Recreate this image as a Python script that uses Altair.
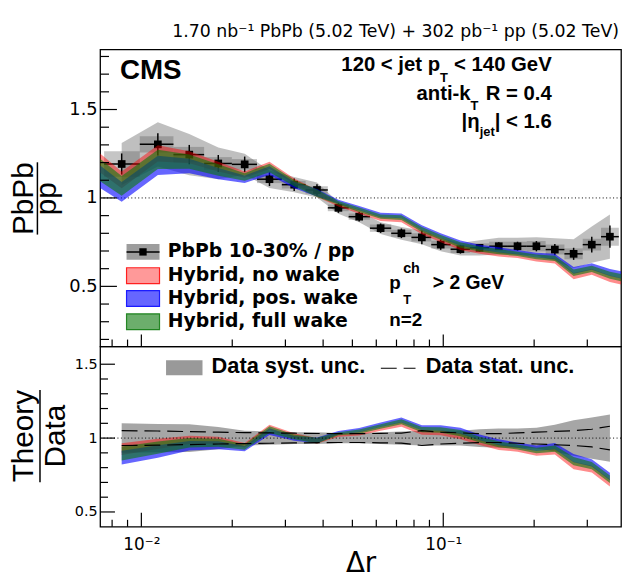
import altair as alt
import pandas as pd

# ---------------- data ----------------
dr_centre = [0.008606, 0.01134, 0.01441, 0.01798, 0.02199, 0.02657, 0.03208, 0.03817,
             0.04495, 0.05266, 0.06202, 0.07267, 0.08494, 0.09806, 0.1140, 0.1319,
             0.1527, 0.1762, 0.2035, 0.2342, 0.2703, 0.3104, 0.3565]
dr_edges = [0.007527, 0.009880, 0.012773, 0.016138, 0.019940, 0.024161, 0.029196, 0.034991,
            0.041458, 0.048597, 0.057150, 0.067236, 0.078464, 0.091251, 0.10574, 0.12254,
            0.14199, 0.16381, 0.18909, 0.21834, 0.25195, 0.28973, 0.33316, 0.38158]
pbpb_pp = [1.192, 1.303, 1.245, 1.195, 1.190, 1.106, 1.075, 1.045, 0.944, 0.894, 0.829, 0.800,
           0.777, 0.736, 0.710, 0.718, 0.727, 0.727, 0.727, 0.708, 0.684, 0.736, 0.781]
stat_rel = [0.05, 0.048, 0.044, 0.04, 0.037, 0.035, 0.033, 0.031, 0.03, 0.03, 0.032, 0.034,
            0.05, 0.04, 0.035, 0.03, 0.03, 0.035, 0.04, 0.045, 0.05, 0.06, 0.08]
syst_rel = [0.10, 0.096, 0.094, 0.075, 0.05, 0.045, 0.04, 0.04, 0.035, 0.035, 0.04, 0.045,
            0.05, 0.05, 0.05, 0.06, 0.065, 0.065, 0.07, 0.09, 0.12, 0.14, 0.16]
box_rel = [0.06, 0.035, 0.035, 0.03, 0.025, 0.02, 0.02, 0.02, 0.02, 0.02, 0.025, 0.025,
           0.03, 0.03, 0.03, 0.035, 0.035, 0.035, 0.04, 0.04, 0.045, 0.045, 0.065]

# theory (Hybrid model) bands: plot edges + data bin centres
theory_dr = [0.0073] + dr_centre + [0.388]
nowake_lo = [1.144, 1.055, 1.206, 1.196, 1.150, 1.114, 1.164, 1.080, 1.005, 0.952, 0.910, 0.870,
             0.862, 0.795, 0.750, 0.705, 0.684, 0.669, 0.660, 0.640, 0.629, 0.540, 0.565, 0.525, 0.510]
nowake_hi = [1.251, 1.150, 1.298, 1.264, 1.205, 1.150, 1.205, 1.110, 1.045, 0.971, 0.933, 0.893,
             0.887, 0.820, 0.775, 0.733, 0.710, 0.695, 0.683, 0.665, 0.657, 0.575, 0.598, 0.562, 0.548]
poswake_lo = [1.056, 0.978, 1.130, 1.140, 1.105, 1.084, 1.130, 1.055, 1.008, 0.969, 0.930, 0.891,
              0.885, 0.818, 0.773, 0.730, 0.707, 0.692, 0.680, 0.663, 0.654, 0.572, 0.594, 0.558, 0.544]
poswake_hi = [1.183, 1.090, 1.239, 1.221, 1.170, 1.127, 1.179, 1.091, 1.050, 0.990, 0.955, 0.916,
              0.912, 0.845, 0.800, 0.760, 0.735, 0.721, 0.705, 0.690, 0.684, 0.610, 0.630, 0.598, 0.585]
fullwake_lo = [1.095, 1.012, 1.164, 1.165, 1.125, 1.097, 1.145, 1.066, 1.006, 0.962, 0.921, 0.882,
               0.875, 0.808, 0.763, 0.719, 0.697, 0.682, 0.671, 0.653, 0.643, 0.558, 0.581, 0.543, 0.529]
fullwake_hi = [1.222, 1.124, 1.273, 1.245, 1.190, 1.140, 1.194, 1.102, 1.048, 0.982, 0.946, 0.907,
               0.902, 0.835, 0.790, 0.749, 0.725, 0.711, 0.696, 0.680, 0.673, 0.596, 0.617, 0.583, 0.570]

x_major = [0.01, 0.1]
x_major_labels = ["10⁻²", "10⁻¹"]
x_minor = [0.008, 0.009, 0.02, 0.03, 0.04, 0.05, 0.06, 0.07, 0.08, 0.09, 0.2, 0.3]
y_top_major = [0.5, 1.0, 1.5]
y_top_minor = [0.2, 0.3, 0.4, 0.6, 0.7, 0.8, 0.9, 1.1, 1.2, 1.3, 1.4, 1.6, 1.7, 1.8]
y_bot_major = [0.5, 1.0, 1.5]
y_bot_minor = [0.6, 0.7, 0.8, 0.9, 1.1, 1.2, 1.3, 1.4]

# ---------------- tables ----------------
n = len(dr_centre)
data = pd.DataFrame({
    "dr": dr_centre, "lo": dr_edges[:-1], "hi": dr_edges[1:], "r": pbpb_pp,
})
data["st_lo"] = [pbpb_pp[i] * (1 - stat_rel[i]) for i in range(n)]
data["st_hi"] = [pbpb_pp[i] * (1 + stat_rel[i]) for i in range(n)]
data["sy_lo"] = [pbpb_pp[i] * (1 - syst_rel[i]) for i in range(n)]
data["sy_hi"] = [pbpb_pp[i] * (1 + syst_rel[i]) for i in range(n)]
data["bx_lo"] = [pbpb_pp[i] * (1 - box_rel[i]) for i in range(n)]
data["bx_hi"] = [pbpb_pp[i] * (1 + box_rel[i]) for i in range(n)]

theory = pd.DataFrame({
    "dr": theory_dr,
    "nw_lo": nowake_lo, "nw_hi": nowake_hi,
    "pw_lo": poswake_lo, "pw_hi": poswake_hi,
    "fw_lo": fullwake_lo, "fw_hi": fullwake_hi,
})

ratio = pd.DataFrame({"dr": dr_centre})
ratio["sy_lo"] = [1 - s for s in syst_rel]
ratio["sy_hi"] = [1 + s for s in syst_rel]
ratio["st_lo"] = [1 - s for s in stat_rel]
ratio["st_hi"] = [1 + s for s in stat_rel]
for key, lo, hi in [("nw", nowake_lo, nowake_hi), ("pw", poswake_lo, poswake_hi),
                    ("fw", fullwake_lo, fullwake_hi)]:
    ratio[key + "_lo"] = [lo[i + 1] / pbpb_pp[i] for i in range(n)]
    ratio[key + "_hi"] = [hi[i + 1] / pbpb_pp[i] for i in range(n)]

one = pd.DataFrame({"y": [1.0]})

# ---------------- styling ----------------
W, H1, H2 = 526, 300, 182
RED, BLUE, GREEN = "#ff0000", "#0000ff", "#0a780a"
xs = alt.Scale(type="log", domain=[0.0073, 0.388], nice=False)
ys1 = alt.Scale(domain=[0.16, 1.84], nice=False, zero=False)
ys2 = alt.Scale(domain=[0.40, 1.62], nice=False, zero=False)
LS, DJ = "Liberation Sans", "DejaVu Sans"

yaxis1 = alt.Axis(values=y_top_major, format="~g", labelFont=DJ, labelFontSize=18,
                  labelColor="black", labelPadding=3, ticks=False, tickSize=0, domain=False,
                  grid=False, title=None, labelFlush=False)
yaxis2 = alt.Axis(values=y_bot_major, format="~g", labelFont=DJ, labelFontSize=14.5,
                  labelColor="black", labelPadding=3, ticks=False, tickSize=0, domain=False,
                  grid=False, title=None, labelFlush=False)
xaxis = alt.Axis(values=x_major,
                 labelExpr=f"datum.value < 0.05 ? '{x_major_labels[0]}' : '{x_major_labels[1]}'",
                 labelFont=DJ, labelFontSize=17, labelColor="black", labelPadding=10,
                 ticks=False, tickSize=0, domain=False, grid=False, labelFlush=False,
                 title="Δr", titleFont=DJ, titleFontSize=28, titleFontWeight="normal",
                 titleColor="black", titlePadding=-3)


def mk(panel):
    if panel == 1:
        return (lambda f: alt.X(f"{f}:Q", scale=xs, axis=None),
                lambda f: alt.Y(f"{f}:Q", scale=ys1, axis=yaxis1), ys1, H1)
    return (lambda f: alt.X(f"{f}:Q", scale=xs, axis=xaxis),
            lambda f: alt.Y(f"{f}:Q", scale=ys2, axis=yaxis2), ys2, H2)


def txt(s, x, y, size, font=LS, bold=True, align="left", angle=0):
    return alt.Chart(one).mark_text(
        text=s, align=align, baseline="alphabetic", fontSize=size, font=font,
        fontWeight="bold" if bold else "normal", angle=angle, color="black"
    ).encode(x=alt.value(x), y=alt.value(y))


def box(x1, x2, y1, y2, fill, fop, stroke=None):
    kw = dict(fill=fill, fillOpacity=fop)
    if stroke:
        kw.update(stroke=stroke, strokeWidth=1.2, strokeOpacity=0.85)
    return alt.Chart(one).mark_rect(**kw).encode(
        x=alt.value(x1), x2=alt.value(x2), y=alt.value(y1), y2=alt.value(y2))


def seg(x1, x2, y1, y2, dash=None, width=1.5):
    kw = dict(color="black", strokeWidth=width)
    if dash:
        kw["strokeDash"] = dash
    return alt.Chart(one).mark_rule(**kw).encode(
        x=alt.value(x1), x2=alt.value(x2), y=alt.value(y1), y2=alt.value(y2))


def panel_common(panel, majlen_x, majlen_y, minlen_y):
    Xf, Yf, ys, h = mk(panel)
    return [
        alt.Chart(pd.DataFrame({"v": x_minor})).mark_rule(color="black", strokeWidth=1.2).encode(
            x=Xf("v"), y=alt.value(h), y2=alt.value(h - 7)),
        alt.Chart(pd.DataFrame({"v": x_major})).mark_rule(color="black", strokeWidth=1.2).encode(
            x=Xf("v"), y=alt.value(h), y2=alt.value(h - majlen_x)),
        alt.Chart(pd.DataFrame({"v": y_top_minor if panel == 1 else y_bot_minor})).mark_rule(
            color="black", strokeWidth=1.2).encode(y=Yf("v"), x=alt.value(0), x2=alt.value(minlen_y)),
        alt.Chart(pd.DataFrame({"v": y_top_major if panel == 1 else y_bot_major})).mark_rule(
            color="black", strokeWidth=1.2).encode(y=Yf("v"), x=alt.value(0), x2=alt.value(majlen_y)),
    ]


def band(panel, df, lo, hi, color, op):
    Xf, Yf, ys, h = mk(panel)
    return alt.Chart(df).mark_area(color=color, opacity=op, clip=True).encode(
        x=Xf("dr"), y=Yf(lo), y2=f"{hi}:Q")


# ---------------- top panel ----------------
X1, Y1, _, _ = mk(1)
top_layers = [
    alt.Chart(one).mark_rule(color="white", strokeWidth=1).encode(
        x=alt.value(0), x2=alt.value(10), y=alt.value(-37.5), y2=alt.value(-37.5)),
    alt.Chart(one).mark_rule(color="black", strokeDash=[1, 2.5], strokeWidth=1).encode(y=Y1("y")),
    alt.Chart(data).mark_area(color="#7f7f7f", opacity=0.5).encode(
        x=X1("dr"), y=Y1("sy_lo"), y2="sy_hi:Q"),
    alt.Chart(data).mark_rect(color="#5a5a5a", opacity=0.35).encode(
        x=X1("lo"), x2="hi:Q", y=Y1("bx_lo"), y2="bx_hi:Q"),
    alt.Chart(data).mark_rule(color="black", strokeWidth=1.5).encode(
        x=X1("lo"), x2="hi:Q", y=Y1("r")),
    alt.Chart(data).mark_rule(color="black", strokeWidth=1.5).encode(
        x=X1("dr"), y=Y1("st_lo"), y2="st_hi:Q"),
    alt.Chart(data).mark_square(size=60, color="black", opacity=1).encode(
        x=X1("dr"), y=Y1("r")),
    band(1, theory, "nw_lo", "nw_hi", RED, 0.45),
    band(1, theory, "pw_lo", "pw_hi", BLUE, 0.6),
    band(1, theory, "fw_lo", "fw_hi", GREEN, 0.6),
] + panel_common(1, 12, 17, 9) + [
    txt("1.70 nb⁻¹ PbPb (5.02 TeV) + 302 pb⁻¹ pp (5.02 TeV)", 524, -13, 17.5, font=DJ,
        bold=False, align="right"),
    txt("CMS", 20, 30, 28),
    txt("\u00a0<\u00a0140 GeV", 456, 22.3, 20.5, align="right"),
    txt("T", 351.2, 33, 13, align="right"),
    txt("120 < jet p", 343.3, 22.3, 20.5, align="right"),
    txt("\u00a0R = 0.4", 456, 50.7, 20.5, align="right"),
    txt("T", 382, 61.5, 13, align="right"),
    txt("anti-k", 374.1, 50.7, 20.5, align="right"),
    txt("|\u00a0<\u00a01.6", 456, 79, 20.5, align="right"),
    txt("jet", 398.5, 87.5, 13, align="right"),
    txt("|η", 383.3, 79, 20.5, align="right"),
    txt("p", 292, 242, 19),
    txt("ch", 306, 226, 14.5),
    txt("T", 306, 257, 13),
    txt("> 2 GeV", 336, 242, 19.5),
    txt("n=2", 292, 279, 19),
    txt("PbPb", -68, 150.7, 30, bold=False, align="center", angle=270),
    txt("pp", -44.4, 150.7, 30, bold=False, align="center", angle=270),
    seg(-63.3, -63.3, 114, 187),
    box(26.7, 60, 196.5, 212.5, "#8c8c8c", 0.85),
    seg(26.7, 60, 204.5, 204.5),
    alt.Chart(one).mark_square(size=55, color="black", opacity=1).encode(
        x=alt.value(43.3), y=alt.value(204.5)),
    box(26.7, 60, 220.5, 236.5, RED, 0.4, RED),
    box(26.7, 60, 243.5, 259.5, BLUE, 0.6, BLUE),
    box(26.7, 60, 267, 283, GREEN, 0.6, GREEN),
    txt("PbPb 10-30% / pp", 68.3, 210, 19, font=DJ),
    txt("Hybrid, no wake", 68.3, 234, 19, font=DJ),
    txt("Hybrid, pos. wake", 68.3, 257, 19, font=DJ),
    txt("Hybrid, full wake", 68.3, 280.5, 19, font=DJ),
]
top = alt.layer(*top_layers).properties(width=W, height=H1)

# ---------------- bottom panel ----------------
X2, Y2, _, _ = mk(2)
bot_layers = [
    alt.Chart(ratio).mark_area(color="#9c9c9c", opacity=0.9).encode(
        x=X2("dr"), y=Y2("sy_lo"), y2="sy_hi:Q"),
    band(2, ratio, "nw_lo", "nw_hi", RED, 0.45),
    band(2, ratio, "pw_lo", "pw_hi", BLUE, 0.6),
    band(2, ratio, "fw_lo", "fw_hi", GREEN, 0.6),
    alt.Chart(ratio).mark_line(color="black", strokeDash=[16, 7], strokeWidth=1.2).encode(
        x=X2("dr"), y=Y2("st_hi")),
    alt.Chart(ratio).mark_line(color="black", strokeDash=[16, 7], strokeWidth=1.2).encode(
        x=X2("dr"), y=Y2("st_lo")),
    alt.Chart(one).mark_rule(color="black", strokeDash=[1, 2.5], strokeWidth=1).encode(y=Y2("y")),
] + panel_common(2, 14, 15, 8) + [
    txt("Theory", -68, 90.5, 30, bold=False, align="center", angle=270),
    txt("Data", -35.5, 90.5, 30, bold=False, align="center", angle=270),
    seg(-60.7, -60.7, 44, 137),
    box(66.6, 103.4, 14, 29, "#999999", 1),
    txt("Data syst. unc.", 112.6, 27, 22),
    seg(283.5, 318.5, 22, 22, dash=[16, 7], width=1.2),
    txt("Data stat. unc.", 328.7, 27, 22),
]
bottom = alt.layer(*bot_layers).properties(width=W, height=H2)

chart = alt.vconcat(top, bottom, spacing=0, bounds="flush").properties(
    padding=0
).configure_view(stroke="black", strokeWidth=1.3)

chart.save("out.html", embed_options={"renderer": "svg", "actions": False})
